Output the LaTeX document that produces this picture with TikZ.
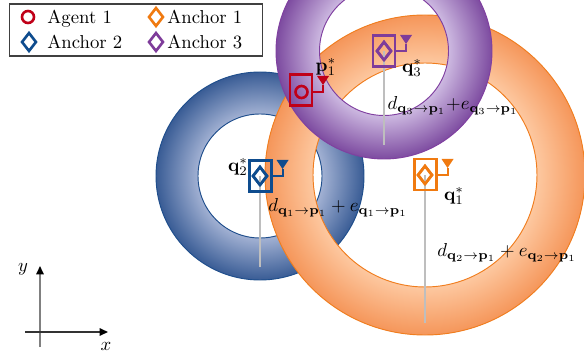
\documentclass[tikz,border=0pt]{standalone}
\usetikzlibrary{shapes.geometric,arrows.meta}
\definecolor{cRed}{HTML}{C00018}
\definecolor{cBlue}{HTML}{0E4C8E}
\definecolor{cOrange}{HTML}{F07A10}
\definecolor{cPurple}{HTML}{7E3C9A}
\definecolor{blueLight}{HTML}{A2B1D3}
\definecolor{blueDark}{HTML}{395C95}
\definecolor{blueLine}{HTML}{1F4E8C}
\definecolor{orLight}{HTML}{FDC8A0}
\definecolor{orDark}{HTML}{F5965A}
\definecolor{orLine}{HTML}{F07D1E}
\definecolor{puLight}{HTML}{CDB9E1}
\definecolor{puDark}{HTML}{7D4BA0}
\definecolor{puLine}{HTML}{8040A0}
\definecolor{guide}{HTML}{BEBEBE}
\pgfdeclareradialshading{ringBlue}{\pgfpoint{0bp}{0bp}}{color(0bp)=(blueLight); color(14.9bp)=(blueLight); color(25bp)=(blueDark); color(50bp)=(blueDark)}
\pgfdeclareradialshading{ringOrange}{\pgfpoint{0bp}{0bp}}{color(0bp)=(orLight); color(17.5bp)=(orLight); color(25bp)=(orDark); color(50bp)=(orDark)}
\pgfdeclareradialshading{ringPurple}{\pgfpoint{0bp}{0bp}}{color(0bp)=(puLight); color(14.9bp)=(puLight); color(25bp)=(puDark); color(50bp)=(puDark)}
\def\PX{0.534pt}
\tikzset{
  ring/.style={even odd rule, line width=0.5pt},
  abox/.style={draw, line width=1.1pt, minimum width=22*\PX, minimum height=31*\PX, inner sep=0pt},
  dia/.style={diamond, draw, line width=1.4pt, minimum width=15*\PX, minimum height=19*\PX, inner sep=0pt},
  agentsym/.style={circle, draw, line width=1.4pt, minimum size=12*\PX, inner sep=0pt},
  antenna/.style={line width=1.1pt},
  guideline/.style={draw=guide, line width=1.2pt},
  lbl/.style={inner sep=0pt},
  axisline/.style={line width=0.8pt, -{Triangle[length=4.5pt,width=4pt,color=black]}},
}
\begin{document}
\begin{tikzpicture}[x=\PX, y=-\PX]
\useasboundingbox (0,0) rectangle (584,360);
% rings
\shadedraw[ring, shading=ringBlue, draw=blueLine] (260,176) circle[radius=104*\PX] (260,176) circle[radius=62*\PX];
\shadedraw[ring, shading=ringOrange, draw=orLine] (425,175) circle[radius=160*\PX] (425,175) circle[radius=112*\PX];
\shadedraw[ring, shading=ringPurple, draw=puLine] (384,51) circle[radius=108*\PX] (384,51) circle[radius=64.5*\PX];
% guide line end points
\coordinate (e2) at (260,267);
\coordinate (e1) at (425,323);
\coordinate (e3) at (384,145);
% anchor symbols
\node[dia, draw=cBlue] (s2) at (260,176) {};
\node[dia, draw=cOrange] (s1) at (425,175) {};
\node[dia, draw=cPurple] (s3) at (384,51) {};
\node[agentsym, draw=cRed] (sa) at (301.5,92) {};
% guide lines
\draw[guideline] (s2.center) -- (e2);
\draw[guideline] (s1.center) -- (e1);
\draw[guideline] (s3.center) -- (e3);
% symbols again, above guides
\node[dia, draw=cBlue] at (s2) {};
\node[dia, draw=cOrange] at (s1) {};
\node[dia, draw=cPurple] at (s3) {};
% boxes
\node[abox, draw=cBlue] (b2) at (260.5,176) {};
\node[abox, draw=cOrange] (b1) at (425.5,174.5) {};
\node[abox, draw=cPurple] (b3) at (384,51) {};
\node[abox, draw=cRed] (ba) at (301,90) {};
% antennas
\foreach \b/\s/\c in {b2/s2/cBlue, b1/s1/cOrange, b3/s3/cPurple, ba/sa/cRed}{
  \draw[antenna, draw=\c] (\b.east |- \s) -| ++(10,-7) coordinate (\b t);
  \fill[\c] (\b t) -- ++(-6,-9) -- ++(12,0) -- cycle;
}
% labels
\node[lbl] (lp1) at (326,67) {$\mathbf{p}_1^*$};
\node[lbl] (lq3) at (412,68) {$\mathbf{q}_3^*$};
\node[lbl] (lq2) at (238,167) {$\mathbf{q}_2^*$};
\node[lbl] (lq1) at (454,196) {$\mathbf{q}_1^*$};
\node[lbl] (ld1) at (338,208) {$d_{\mathbf{q}_1\to\mathbf{p}_1} + e_{\mathbf{q}_1\to\mathbf{p}_1}$};
\node[lbl] (ld2) at (507,253) {$d_{\mathbf{q}_2\to\mathbf{p}_1} + e_{\mathbf{q}_2\to\mathbf{p}_1}$};
\node[lbl] (ld3) at (453,106) {$d_{\mathbf{q}_3\to\mathbf{p}_1}{+}e_{\mathbf{q}_3\to\mathbf{p}_1}$};
% legend
\node[draw=black!75, line width=0.6pt, fill=white, minimum width=253*\PX, minimum height=52*\PX, inner sep=0pt] (legend) at (136,30) {};
\node[agentsym, draw=cRed] (lg1) at (28,17) {};
\node[dia, draw=cOrange] (lg2) at (156,17) {};
\node[dia, draw=cBlue] (lg3) at (29,42) {};
\node[dia, draw=cPurple] (lg4) at (156,42) {};
\node[lbl, anchor=base west] (lt1) at (47,24) {Agent 1};
\node[lbl, anchor=base west] (lt2) at (167,24) {Anchor 1};
\node[lbl, anchor=base west] (lt3) at (47,49) {Anchor 2};
\node[lbl, anchor=base west] (lt4) at (167,49) {Anchor 3};
% axes
\coordinate (ya) at (40,347);
\coordinate (yb) at (40,266);
\coordinate (xa) at (25,332);
\coordinate (xb) at (108,332);
\draw[axisline, draw=black!50] (ya) -- (yb);
\draw[axisline, draw=black!80] (xa) -- (xb);
\node[lbl] (ly) at (23,269) {$y$};
\node[lbl] (lx) at (106,346) {$x$};
\end{tikzpicture}
\end{document}
